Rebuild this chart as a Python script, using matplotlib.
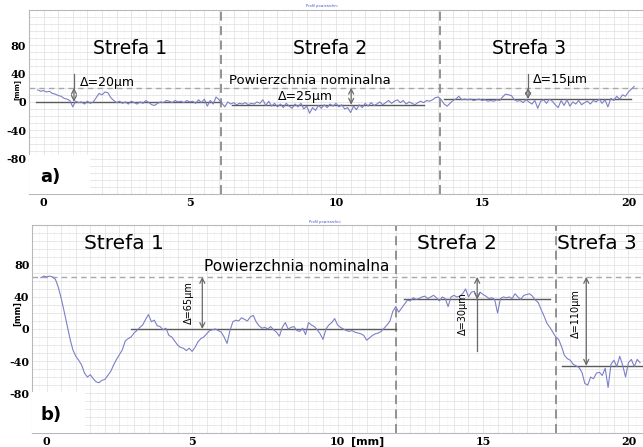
import numpy as np
import matplotlib
matplotlib.use("Agg")
import matplotlib.pyplot as plt
from matplotlib.patches import Rectangle

# ---- panel a) profile, sampled every 0.1 mm from -0.2 to 20.2 ----
a_x0, a_x1 = -0.2, 20.2
a_profile = [
    17, 15, 16, 14, 15, 12, 11, 9, 8, 5, 4, 2, -7, 1, -1, 0, -3, 1, -2, 0,
    6, 12, 10, 14, 13, 6, 2, -1, 1, -2, 0, -3, 1, -1, -3, 0, -2, 2, -1, -4,
    -5, -2, 0, -1, 2, 1, -1, 2, 0, 1, -1, 2, 0, 1, -2, 3, -1, 4, -6, 2,
    -3, 7, 3, -2, -7, 0, -3, -1, -4, -2, -3, -1, -4, -2, -3, 0, -2, 3, -5, 1,
    -6, -2, -7, -3, -8, -2, -6, -9, -3, -7, -2, -10, -6, -16, -8, -12, -5, -9, -4, -8,
    -3, -6, -2, -7, -4, -10, -8, -15, -6, -11, -4, -8, -2, -6, -1, -5, -3, 0, -4, -1,
    2, -2, 1, 3, -1, 2, -3, 0, -2, -4, -1, 1, -1, 2, 1, 3, 6, 7, 3, -3,
    -6, -2, 2, 4, 8, 3, 4, 3, 4, 2, 3, 4, 2, 3, 1, 2, 1, 3, 2, 7,
    11, 10, 9, 3, 1, 2, -1, 3, 0, -3, 2, -9, 1, 3, -2, 4, 1, -4, -8, 2,
    -5, 3, -6, 0, -3, 2, -4, -1, 1, -3, 2, 0, 4, -2, 3, -7, 5, 2, 8, 4,
    10, 8, 14, 18, 22,
]

# ---- panel b) profile, sampled every 0.1 mm from -0.2 to 20.4 ----
b_x0, b_x1 = -0.2, 20.4
b_profile = [
    64, 66, 65, 66, 65, 62, 52, 38, 22, 5, -12, -26, -34, -39, -45, -55, -60, -57, -62, -66,
    -67, -64, -63, -58, -53, -45, -38, -32, -26, -15, -12, -10, -5, -2, 2, 5, 12, 18, 9, 11,
    4, 3, -1, 1, -8, -10, -15, -20, -23, -24, -27, -24, -28, -23, -16, -12, -10, -6, -2, -1,
    0, -2, -4, -10, -18, -2, 9, 11, 10, 14, 12, 10, 15, 17, 9, 4, 1, 2, 0, 3,
    -1, -4, -9, 2, 8, 0, 2, 3, -2, -3, 1, -7, 8, 5, 3, -1, -6, -13, 0, 5,
    8, 13, 5, 2, 0, -2, -3, -2, -4, -5, -6, -8, -14, -11, -8, -6, -5, -3, 1, 5,
    10, 22, 28, 21, 26, 31, 36, 35, 39, 37, 38, 40, 41, 38, 40, 42, 39, 35, 40, 38,
    28, 40, 42, 40, 41, 44, 50, 40, 46, 47, 38, 46, 43, 41, 38, 39, 37, 20, 38, 40,
    39, 40, 38, 44, 40, 37, 42, 43, 44, 41, 36, 33, 24, 16, 7, 2, -4, -10, -13, -22,
    -33, -37, -39, -44, -46, -48, -54, -68, -70, -60, -62, -55, -54, -58, -49, -73, -44, -39, -47, -34,
    -45, -60, -42, -38, -47, -38, -42,
]

# zone borders, nominal surface and zone mean lines
a_borders = [6.07, 13.57]
a_nominal = 20
a_means = [(-0.25, 6.07, 0), (6.45, 13.0, -4), (13.7, 20.1, 4)]
b_borders = [12.0, 17.5]
b_nominal = 65
b_means = [(2.9, 12.0, 0), (12.3, 17.3, 37), (17.7, 20.5, -46)]

x_ticks = [0, 5, 10, 15, 20]
x_ticklabels = ["0", "5", "10", "15", "20"]
y_ticks = [80, 40, 0, -40, -80]
y_ticklabels = ["80", "40", "0", "-40", "-80"]

TRACE = "#7c80c6"
SERIF = {"family": "DejaVu Serif", "weight": "bold", "size": 8}
SANS = "DejaVu Sans"


def setup_axes(ax, xlim, ylim):
    ax.set_xlim(*xlim)
    ax.set_ylim(*ylim)
    ax.set_xticks(x_ticks)
    ax.set_xticklabels(x_ticklabels, fontdict=SERIF)
    ax.set_yticks(y_ticks)
    ax.set_yticklabels(y_ticklabels, fontdict=SERIF)
    ax.set_xticks(np.arange(-0.5, 21, 0.5), minor=True)
    ax.set_yticks(np.arange(-130, 131, 10), minor=True)
    ax.tick_params(which="both", length=0, pad=2)
    ax.grid(which="minor", color="#dedede", lw=0.5)
    ax.grid(which="major", color="#dedede", lw=0.5)
    for xv in np.arange(-0.25, 21, 0.5):
        ax.axvline(xv, color="#ececec", lw=0.5, ls=":", zorder=0)
    for s in ax.spines.values():
        s.set_color("#b8b8b8")
        s.set_linewidth(0.8)
    ax.spines["right"].set_visible(False)


def draw_profile(ax, x0, x1, profile, borders, nominal, means):
    xs = np.linspace(x0, x1, len(profile))
    ax.axhline(nominal, color="#a8a8a8", lw=1.0, ls=(0, (4, 3)), zorder=2)
    for b in borders:
        ax.axvline(b, color="#8a8a8a", lw=1.3, ls=(0, (5, 3)), zorder=2)
    for xa, xb, lvl in means:
        ax.plot([xa, xb], [lvl, lvl], color="#5a5a5a", lw=1.0, zorder=3)
    ax.plot(xs, profile, color=TRACE, lw=0.8, zorder=4)


def arrow(ax, x, y0, y1):
    ax.annotate("", xy=(x, y1), xytext=(x, y0),
                arrowprops=dict(arrowstyle="<->", color="#6a6a6a", lw=0.9,
                                shrinkA=0, shrinkB=0, mutation_scale=9),
                zorder=5)


def panel_label(ax, text, w, h):
    ax.add_patch(Rectangle((0, 0), w, h, transform=ax.transAxes,
                           facecolor="white", edgecolor="none", zorder=6))
    ax.text(w * 0.35, h * 0.45, text, transform=ax.transAxes, fontsize=13,
            fontweight="bold", family=SANS, ha="center", va="center", zorder=7)


fig = plt.figure(figsize=(6.43, 4.47), dpi=100)

# ---------------- panel a ----------------
ax1 = fig.add_axes([0.045, 0.566, 0.955, 0.412])
setup_axes(ax1, (-0.23, 20.23), (-126, 125))
draw_profile(ax1, a_x0, a_x1, a_profile, a_borders, a_nominal, a_means)
ax1.plot([1.04, 1.04], [20, 40], color="#6a6a6a", lw=0.9, zorder=5)
arrow(ax1, 1.04, 0, 20)
arrow(ax1, 10.52, -4, 20)
ax1.plot([16.57, 16.57], [20, 40], color="#6a6a6a", lw=0.9, zorder=5)
arrow(ax1, 16.57, 4, 20)
ax1.text(1.25, 28, "Δ=20µm", fontsize=9, family=SANS, va="center", zorder=5)
ax1.text(8.0, 8, "Δ=25µm", fontsize=9, family=SANS, va="center", zorder=5)
ax1.text(16.75, 31, "Δ=15µm", fontsize=9, family=SANS, va="center", zorder=5)
ax1.text(6.35, 30, "Powierzchnia nominalna", fontsize=9.5, family=SANS,
         va="center", zorder=5)
for xc, t in [(2.95, "Strefa 1"), (9.8, "Strefa 2"), (16.6, "Strefa 3")]:
    ax1.text(xc, 75, t, fontsize=13.5, family=SANS, ha="center", va="center", zorder=5)
ax1.text(10.5, -1.02, "[mm]", transform=ax1.get_xaxis_transform(), fontsize=6,
         family=SANS, fontweight="bold", va="top")
panel_label(ax1, "a)", 0.1, 0.21)

# ---------------- panel b ----------------
ax2 = fig.add_axes([0.05, 0.031, 0.95, 0.466])
setup_axes(ax2, (-0.2, 20.37), (-124, 128))
draw_profile(ax2, b_x0, b_x1, b_profile, b_borders, b_nominal, b_means)
arrow(ax2, 5.35, 0, 65)
arrow(ax2, 14.8, 37, 65)
ax2.plot([14.8, 14.8], [37, -28], color="#6a6a6a", lw=0.9, zorder=5)
arrow(ax2, 18.55, -46, 65)
for xc, yc, t in [(4.88, 33, "Δ=65µm"), (14.3, 19, "Δ=30µm"), (18.2, 19, "Δ=110µm")]:
    ax2.text(xc, yc, t, fontsize=7, family=SANS, rotation=90,
             ha="center", va="center", zorder=5)
ax2.text(5.4, 78, "Powierzchnia nominalna", fontsize=11, family=SANS,
         va="center", zorder=5)
ax2.text(2.65, 107, "Strefa 1", fontsize=14.5, family=SANS, ha="center", va="center", zorder=5)
ax2.text(14.1, 107, "Strefa 2", fontsize=14.5, family=SANS, ha="center", va="center", zorder=5)
ax2.text(17.55, 107, "Strefa 3", fontsize=14.5, family=SANS, ha="left", va="center", zorder=5)
ax2.text(10.45, -0.015, "[mm]", transform=ax2.get_xaxis_transform(), fontsize=8,
         family=SANS, fontweight="bold", va="top")
panel_label(ax2, "b)", 0.087, 0.197)

# y-axis unit labels, squeezed between the 40 and 0 tick labels
fig.text(0.027, 1 - 89 / 447, "[mm]", rotation=90, fontsize=5, fontweight="bold",
         family=SANS, ha="center", va="center")
fig.text(0.028, 1 - 314 / 447, "[mm]", rotation=90, fontsize=6, fontweight="bold",
         family=SANS, ha="center", va="center")

# tiny chart-software captions
fig.text(0.5, 0.985, "Profil powierzchni", fontsize=2.5, color="#3a4fd0", ha="center")
fig.text(0.505, 0.502, "Profil powierzchni", fontsize=2.5, color="#3a4fd0", ha="center")

fig.savefig("out.png", dpi=100)
